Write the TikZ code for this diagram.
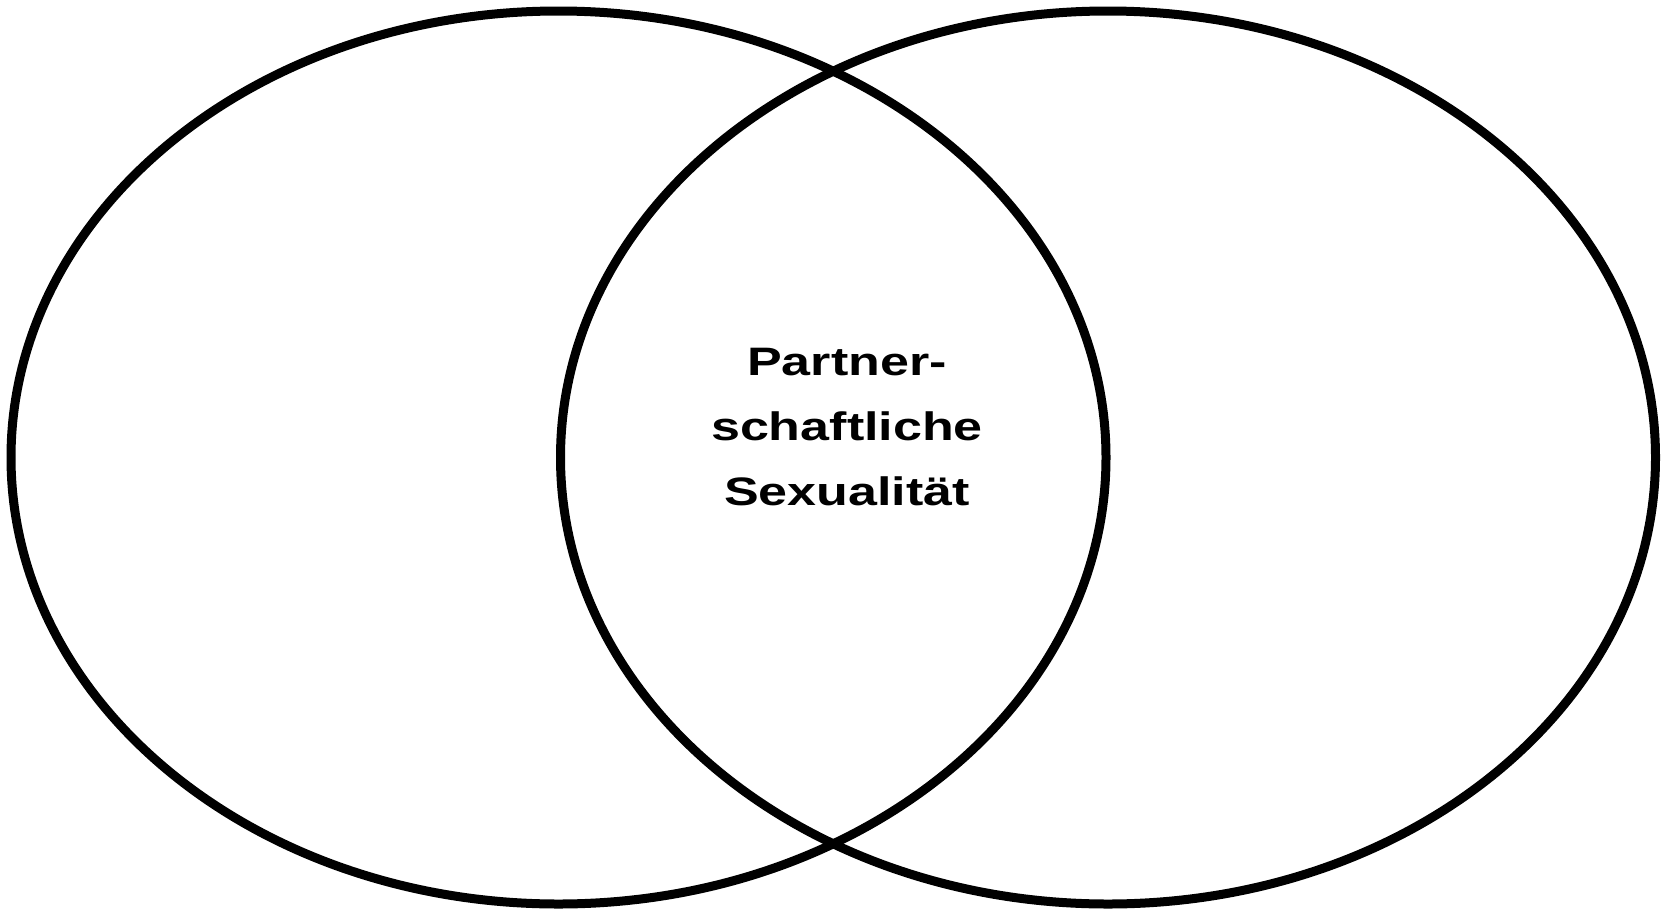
\documentclass[tikz,border=0pt]{standalone}
\usepackage{fontspec}
\setmainfont{Liberation Sans}
\usetikzlibrary{shapes.geometric}

\begin{document}
\begin{tikzpicture}[
    every sphere/.style={draw, ellipse, line width=0.09cm, inner sep=0pt,
        minimum width=10.95cm, minimum height=8.93cm},
    label text/.style={align=center, xscale=1.31, transform shape,
        font=\fontsize{11.3pt}{18.5pt}\selectfont\bfseries}
]
    \useasboundingbox (0,0) rectangle (16.63,9.11);

    \node[every sphere] (links)  at (5.585,4.535) {};
    \node[every sphere] (rechts) at (11.08,4.535) {};

    \node[label text] (mitte) at (8.47,4.84) {Partner-\\schaftliche\\Sexualität};
\end{tikzpicture}
\end{document}
